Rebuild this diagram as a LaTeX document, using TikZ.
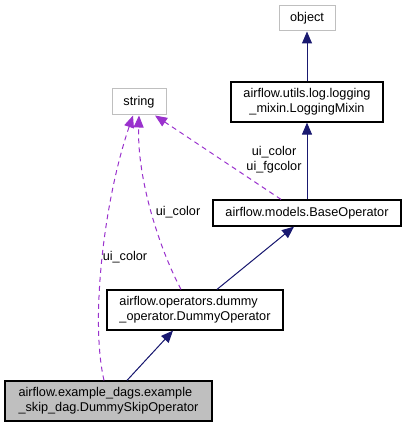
\documentclass[tikz,border=0pt]{standalone}
\usepackage{fontspec}
\setmainfont{Liberation Sans}
\usetikzlibrary{arrows.meta}
\definecolor{navyc}{HTML}{191970}
\definecolor{purp}{HTML}{9A32CD}
\definecolor{lgray}{HTML}{BFBFBF}
\begin{document}
\begin{tikzpicture}[x=1pt,y=-1pt,
  every node/.style={font=\fontsize{12.7}{15}\selectfont, inner sep=0pt},
  cls/.style={draw=black, line width=1.2pt, fill=white, rectangle},
  ext/.style={draw=lgray, line width=1pt, fill=white, rectangle},
  inh/.style={draw=navyc, line width=1pt, -{Triangle[length=12pt,width=10pt]}, fill=navyc},
  use/.style={draw=purp, line width=1pt, dash pattern=on 5pt off 4pt, -{Triangle[length=12pt,width=10pt]}},
  lbl/.style={align=center}]
\useasboundingbox (0,0) rectangle (407,427);
\node[ext, minimum width=56pt, minimum height=25pt] (object) at (307,18.5) {object};
\node[cls, minimum width=152pt, minimum height=40pt, align=center] (logmix) at (307,102) {airflow.utils.log.logging\\\_mixin.LoggingMixin};
\node[ext, minimum width=54pt, minimum height=26pt] (string) at (139,102) {string};
\node[cls, minimum width=188pt, minimum height=26pt] (base) at (307,213) {airflow.models.BaseOperator};
\node[cls, minimum width=176pt, minimum height=40pt, align=left] (dummy) at (195,310) {airflow.operators.dummy\\\_operator.DummyOperator};
\node[cls, fill=lgray, minimum width=207pt, minimum height=40pt, align=left] (skip) at (108.5,401) {airflow.example\_dags.example\\\_skip\_dag.DummySkipOperator};

\draw[inh] (logmix.north) -- (object.south);
\draw[inh] (base.north) -- (logmix.south);
\draw[inh] ([xshift=22pt]dummy.north) -- ([xshift=-13pt]base.south);
\draw[inh] ([xshift=18.5pt]skip.north) -- ([xshift=-22pt]dummy.south);

\draw[use] ([xshift=-26pt]base.north) -- ([xshift=16pt]string.south);
\draw[use] ([xshift=-14pt]dummy.north) .. controls (160,250) and (137,180) .. ([xshift=0pt]string.south);
\draw[use] ([xshift=-4.5pt]skip.north) .. controls (90,320) and (104,200) .. ([xshift=-6pt]string.south);

\node[lbl] (l1) at (274,160) {ui\_color\\ui\_fgcolor};
\node[lbl] (l2) at (178,212) {ui\_color};
\node[lbl] (l3) at (125,257) {ui\_color};
\end{tikzpicture}
\end{document}
